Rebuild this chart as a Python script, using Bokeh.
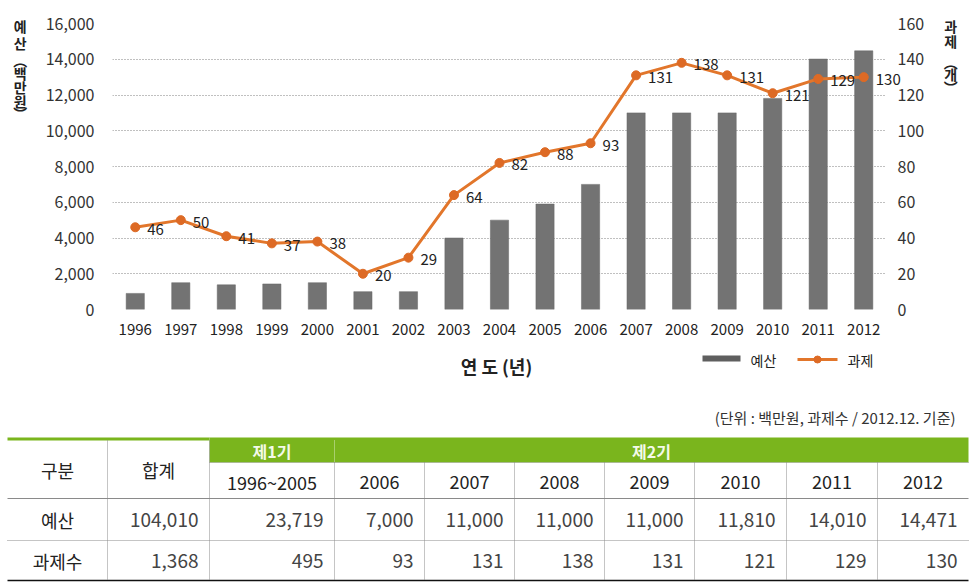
from bokeh.plotting import figure
from bokeh.models import (ColumnDataSource, FactorRange, Range1d, LinearAxis, SingleIntervalTicker,
                          NumeralTickFormatter)
from bokeh.embed import file_html
from bokeh.resources import INLINE
from bokeh.core.properties import value

# ---------------- data ----------------
years = ["1996", "1997", "1998", "1999", "2000", "2001", "2002", "2003", "2004",
         "2005", "2006", "2007", "2008", "2009", "2010", "2011", "2012"]
budget = [900, 1500, 1380, 1430, 1500, 1000, 1000, 4000, 5000,
          5900, 7000, 11000, 11000, 11000, 11810, 14010, 14471]
projects = [46, 50, 41, 37, 38, 20, 29, 64, 82, 88, 93, 131, 138, 131, 121, 129, 130]

table_periods = ["1996~2005", "2006", "2007", "2008", "2009", "2010", "2011", "2012"]
table_budget = [23719, 7000, 11000, 11000, 11000, 11810, 14010, 14471]
table_counts = [495, 93, 131, 138, 131, 121, 129, 130]
total_budget = 104010
total_counts = 1368

legend_labels = ["예산", "과제"]
left_title = ["예", "산", "︵", "백", "만", "원", "︶"]
right_title = ["과", "제", "︵", "개", "︶"]

FONT = "Noto Sans CJK KR"
ORANGE = "#E2762B"
GREEN = "#7AB51D"
BAR = "#737373"

# ---------------- chart ----------------
src = ColumnDataSource(dict(year=years, budget=budget, cnt=projects,
                            cnt_label=[str(v) for v in projects]))

FRAME_LEFT, FRAME_TOP = 112, 23
p = figure(x_range=FactorRange(factors=years, range_padding=0), y_range=Range1d(0, 16000),
           width=979, height=345, output_backend="svg", toolbar_location=None,
           min_border_left=FRAME_LEFT, min_border_right=93, min_border_top=FRAME_TOP,
           min_border_bottom=36)
p.extra_y_ranges = {"cnt": Range1d(0, 160)}
p.outline_line_color = None

p.vbar(x="year", top="budget", width=0.4, source=src, fill_color=BAR,
       line_color="#666666", line_width=0.5)
p.line(x="year", y="cnt", source=src, y_range_name="cnt", line_color=ORANGE, line_width=3)
p.scatter(x="year", y="cnt", source=src, y_range_name="cnt", size=9,
          fill_color="#DD6A25", line_color="#DD6A25")
p.text(x="year", y="cnt", text="cnt_label", source=src, y_range_name="cnt",
       x_offset=12, y_offset=2, text_align="left", text_baseline="middle",
       text_font=value(FONT), text_font_size="15px", text_color="#222222", level="overlay")

p.xgrid.grid_line_color = None
p.ygrid.grid_line_color = "#808080"
p.ygrid.grid_line_dash = "1 2"
p.ygrid.grid_line_width = 1

ly = p.yaxis[0]
ly.ticker = SingleIntervalTicker(interval=2000)
ly.formatter = NumeralTickFormatter(format="0,0")
ly.axis_line_color = None
ly.major_tick_line_color = None
ly.minor_tick_line_color = None
ly.major_label_standoff = 12
ly.major_label_text_font = FONT
ly.major_label_text_font_size = "16px"
ly.major_label_text_color = "#333333"

ry = LinearAxis(y_range_name="cnt", ticker=SingleIntervalTicker(interval=20))
ry.axis_line_color = None
ry.major_tick_line_color = None
ry.minor_tick_line_color = None
ry.major_label_standoff = 5
ry.major_label_text_font = FONT
ry.major_label_text_font_size = "16px"
ry.major_label_text_color = "#333333"
p.add_layout(ry, "right")

xa = p.xaxis[0]
xa.axis_line_color = None
xa.major_tick_line_color = None
xa.minor_tick_line_color = None
xa.major_label_standoff = 8
xa.major_label_text_font = FONT
xa.major_label_text_font_size = "15px"
xa.major_label_text_color = "#222222"

# vertical (stacked) axis titles: anchored at the first / last category at the top of
# the range, shifted in screen pixels, drawn at overlay level so they are not clipped
left_y = [25.5, 42, 59, 72, 86, 100, 112]
p.text(x=[years[0]] * len(left_title), y=[16000] * len(left_title), text=left_title,
       x_offset=20 - 135, y_offset=[v - FRAME_TOP for v in left_y],
       text_align="center", text_baseline="middle", text_font=value(FONT),
       text_font_size="14px", text_font_style="bold", text_color="#222222", level="overlay")
right_y = [25, 40, 61, 73, 86]
p.text(x=[years[-1]] * len(right_title), y=[16000] * len(right_title), text=right_title,
       x_offset=950 - 863, y_offset=[v - FRAME_TOP for v in right_y],
       text_align="center", text_baseline="middle", text_font=value(FONT),
       text_font_size="14px", text_font_style="bold", text_color="#222222", level="overlay")

# ---------------- lower part: axis title, legend, table ----------------
TOP = 345
t = figure(width=979, height=588 - TOP, x_range=Range1d(0, 979), y_range=Range1d(588, TOP),
           output_backend="svg", toolbar_location=None, min_border=0,
           x_axis_location=None, y_axis_location=None)
t.grid.visible = False
t.outline_line_color = None

# x-axis title
t.text(x=[(FRAME_LEFT + 886) / 2 - 3], y=[365], text=["연 도 (년)"], text_align="center",
       text_baseline="middle", text_font=value(FONT), text_font_size="18px",
       text_font_style="bold", text_color="#222222")

# legend
t.quad(left=[702], right=[740], top=[355], bottom=[361], fill_color="#5f5f5f", line_color=None)
t.segment(x0=[797], y0=[359], x1=[837], y1=[359], line_color=ORANGE, line_width=3)
t.scatter(x=[817], y=[359], size=7, fill_color="#DD6A25", line_color="#DD6A25")
t.text(x=[750, 847], y=[359, 359], text=legend_labels, text_align="left", text_baseline="middle",
       text_font=value(FONT), text_font_size="14px", text_color="#222222")

edges = [7, 107, 209, 334, 424, 514, 604, 694, 786, 877, 968]
right = edges[-1]

# green header
t.segment(x0=[edges[0]], y0=[438.5], x1=[edges[2]], y1=[438.5], line_color=GREEN, line_width=3)
t.quad(left=[edges[2]], right=[right], top=[437], bottom=[462], fill_color=GREEN, line_color=None)
t.segment(x0=[edges[3]], y0=[440], x1=[edges[3]], y1=[462], line_color="#d8e8c0",
          line_width=1, line_dash="1 1")
t.text(x=[(edges[2] + edges[3]) / 2, (edges[3] + right) / 2], y=[450, 450],
       text=["제1기", "제2기"], text_align="center", text_baseline="middle",
       text_font=value(FONT), text_font_size="16px", text_font_style="bold", text_color="#f4faea")

# table rules
t.segment(x0=[edges[2]], y0=[462], x1=[right], y1=[462], line_color="#9a9a9a", line_dash="1 1")
t.segment(x0=[edges[0]], y0=[498], x1=[right], y1=[498], line_color="#8a8a8a", line_width=1)
t.segment(x0=[edges[0]], y0=[540], x1=[right], y1=[540], line_color="#8a8a8a", line_dash="1 1")
t.segment(x0=[edges[0]], y0=[580], x1=[right], y1=[580], line_color="#111111", line_width=1.5)
vx = edges[1:-1]
vy0 = [440, 440] + [462] * (len(vx) - 2)
t.segment(x0=vx, y0=vy0, x1=vx, y1=[580] * len(vx), line_color="#8a8a8a", line_dash="1 1")

# header texts
t.text(x=[(edges[0] + edges[1]) / 2, (edges[1] + edges[2]) / 2], y=[469, 469],
       text=["구분", "합계"], text_align="center", text_baseline="middle",
       text_font=value(FONT), text_font_size="18px", text_color="#222222")
centers = [(edges[i] + edges[i + 1]) / 2 for i in range(2, len(edges) - 1)]
t.text(x=centers, y=[481] * len(centers), text=table_periods, text_align="center",
       text_baseline="middle", text_font=value(FONT), text_font_size="18px", text_color="#222222")

# row labels
t.text(x=[(edges[0] + edges[1]) / 2] * 2, y=[519, 560], text=["예산", "과제수"],
       text_align="center", text_baseline="middle", text_font=value(FONT),
       text_font_size="18px", text_color="#222222")

# numbers (right aligned)
rx = [e - 11 for e in edges[2:]]
t.text(x=rx, y=[519] * len(rx), text=[f"{v:,}" for v in [total_budget] + table_budget],
       text_align="right", text_baseline="middle", text_font=value(FONT),
       text_font_size="19px", text_color="#444444")
t.text(x=rx, y=[560] * len(rx), text=[f"{v:,}" for v in [total_counts] + table_counts],
       text_align="right", text_baseline="middle", text_font=value(FONT),
       text_font_size="19px", text_color="#444444")

# unit note
t.text(x=[955], y=[417], text=["(단위 : 백만원, 과제수 / 2012.12. 기준)"], text_align="right",
       text_baseline="middle", text_font=value(FONT), text_font_size="15px", text_color="#333333")

open("out.html", "w").write(file_html([p, t], INLINE))
